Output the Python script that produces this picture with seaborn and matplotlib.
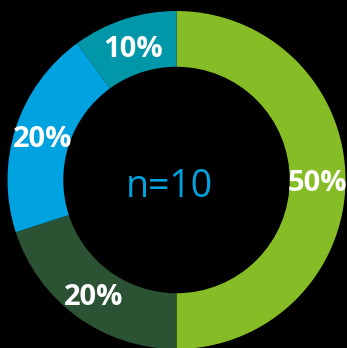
import matplotlib
matplotlib.use("Agg")
import matplotlib.pyplot as plt
import seaborn as sns

# Response shares
categories = ["A", "B", "C", "D"]
shares = [50, 20, 20, 10]
labels = ["50%", "20%", "20%", "10%"]
center_label = "n=10"

sns.set_theme(style="white")
plt.rcParams["font.family"] = ["Open Sans", "DejaVu Sans"]

colors = sns.color_palette(["#86BC25", "#2B5233", "#00A3E0", "#0097A9"])

fig = plt.figure(figsize=(3.47, 3.48), dpi=100, facecolor="black")
ax = fig.add_axes([0, 0, 1, 1])
ax.set_facecolor("black")

scale = 169.0  # pixels per data unit
outer = 1.0
ring = 0.33
wedges, texts = ax.pie(
    shares,
    colors=colors,
    startangle=90,
    counterclock=False,
    radius=outer,
    labels=labels,
    labeldistance=(outer - ring / 2) / outer,
    wedgeprops=dict(width=ring, linewidth=0),
    textprops=dict(color="white", fontsize=21, fontweight="bold", ha="center", va="center"),
)
for t in texts:
    x, y = t.get_position()
    t.set_position((x, y - 3.5 / scale))

ax.text(-7 / scale, -7 / scale, center_label, color="#00A3E0", fontsize=27,
        ha="center", va="center")

# ring center sits at (176.5, 180) px from the top-left corner
ax.set_xlim(-176.5 / scale, (347 - 176.5) / scale)
ax.set_ylim(-(348 - 180) / scale, 180 / scale)
ax.set_aspect("auto")
ax.axis("off")

fig.savefig("out.png", dpi=100, facecolor="black")
